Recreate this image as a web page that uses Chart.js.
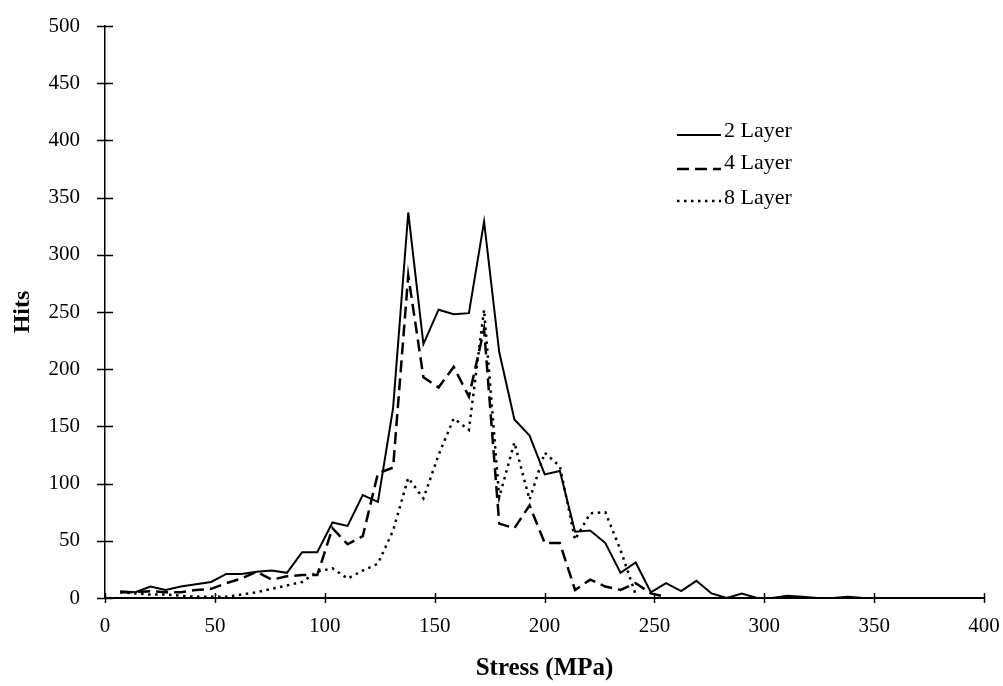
<!DOCTYPE html>
<html><head><meta charset="utf-8">
<script src="https://cdn.jsdelivr.net/npm/chart.js@4.4.1/dist/chart.umd.min.js"></script>
<style>html,body{margin:0;padding:0;background:#fff;} #wrap{width:1003px;height:686px;position:relative;}</style>
</head><body><div id="wrap"><canvas id="c"></canvas></div>
<script>
// Stress bins (MPa)
const stress = [6.9,13.8,20.7,27.6,34.5,41.4,48.3,55.2,62.1,69,75.9,82.8,89.7,96.6,103.5,110.4,117.3,124.2,131.1,138,144.9,151.8,158.7,165.6,172.5,179.4,186.3,193.2,200.1,207,213.9,220.8,227.7,234.6,241.5,248.4,255.3,262.2,269.1,276,282.9,289.8,296.7,303.6,310.5,317.4,324.3,331.2,338.1,345];
// Hits per series
const hits2 = [6,5,10,7,10,12,14,21,21,23,24,22,40,40,66,63,90,84,166,337,222,252,248,249,329,215,156,142,108,111,58,59,48,22,31,5,13,6,15,4,0,4,0,0,2,1,0,0,1,0];
const hits4 = [5,5,6,5,5,7,8,13,17,23,16,19,20,20,61,47,54,109,114,282,193,184,202,176,235,65,61,81,48,48,7,16,10,7,13,4,1];
const hits8 = [5,4,3,3,2,1,1,1,3,5,8,11,14,23,26,17,24,30,59,105,87,125,157,147,252,88,136,86,127,115,51,74,75,42,3];
const seriesNames = ['2 Layer','4 Layer','8 Layer'];
const xTitle = 'Stress (MPa)';
const yTitle = 'Hits';
const xMin = 0, xMax = 400, xStep = 50;
const yMin = 0, yMax = 500, yStep = 50;

const SERIF = "'Liberation Serif', 'DejaVu Serif', serif";
function pts(h){ return h.map((v,i)=>({x:stress[i], y:v})); }

const styles = [
  {borderWidth:2, borderDash:[]},
  {borderWidth:2.5, borderDash:[12,6]},
  {borderWidth:2.5, borderDash:[2.5,4.5]}
];
const seriesData = [hits2, hits4, hits8];

const tickMarks = {
  id:'tickMarks',
  afterDraw(chart){
    const ctx = chart.ctx, xs = chart.scales.x, ys = chart.scales.y;
    const ax = chart.chartArea.left, ay = chart.chartArea.bottom;
    ctx.save();
    ctx.strokeStyle = '#000';
    ctx.lineWidth = 1.5;
    ys.ticks.forEach(t=>{
      const y = Math.round(ys.getPixelForValue(t.value))+0.5;
      ctx.beginPath(); ctx.moveTo(ax-8,y); ctx.lineTo(ax+8,y); ctx.stroke();
    });
    xs.ticks.forEach(t=>{
      const x = Math.round(xs.getPixelForValue(t.value))+0.5;
      ctx.beginPath(); ctx.moveTo(x,ay-5); ctx.lineTo(x,ay+5); ctx.stroke();
    });
    // legend
    const lx0 = 677, lx1 = 721, tx = 724;
    const rows = [{ty:131, ly:135},{ty:163, ly:169},{ty:198, ly:201}];
    ctx.font = "22px " + SERIF;
    ctx.fillStyle = '#000';
    ctx.textBaseline = 'middle';
    ctx.textAlign = 'left';
    seriesNames.forEach((n,i)=>{
      ctx.beginPath();
      ctx.setLineDash(styles[i].borderDash);
      ctx.lineWidth = styles[i].borderWidth;
      ctx.moveTo(lx0, rows[i].ly); ctx.lineTo(lx1, rows[i].ly); ctx.stroke();
      ctx.setLineDash([]);
      ctx.fillText(n, tx, rows[i].ty);
    });
    ctx.restore();
  }
};

new Chart(document.getElementById('c'), {
  type:'line',
  data:{
    datasets: seriesNames.map((n,i)=>({
      label:n,
      data:pts(seriesData[i]),
      borderColor:'#000',
      backgroundColor:'#000',
      borderWidth:styles[i].borderWidth,
      borderDash:styles[i].borderDash,
      pointRadius:0,
      tension:0,
      fill:false
    }))
  },
  options:{
    responsive:true, maintainAspectRatio:false, animation:false, devicePixelRatio:1,
    layout:{padding:{top:26, right:19, left:0, bottom:0}},
    plugins:{legend:{display:false}, tooltip:{enabled:false}},
    scales:{
      x:{type:'linear', min:xMin, max:xMax,
        ticks:{stepSize:xStep, color:'#000', font:{family:SERIF, size:21}, padding:16, maxRotation:0},
        grid:{display:true, drawOnChartArea:false, drawTicks:false},
        border:{display:true, color:'#000', width:2},
        title:{display:true, text:xTitle, color:'#000', font:{family:SERIF, size:25, weight:'bold'}, padding:{top:0,bottom:2}},
        afterFit:s=>{s.height=88; s.paddingLeft=0; s.paddingRight=0;}
      },
      y:{type:'linear', min:yMin, max:yMax,
        ticks:{stepSize:yStep, color:'#000', font:{family:SERIF, size:21}, padding:25},
        grid:{display:true, drawOnChartArea:false, drawTicks:false},
        border:{display:true, color:'#000', width:1.5},
        title:{display:true, text:yTitle, color:'#000', font:{family:SERIF, size:24, weight:'bold'}, padding:{top:8,bottom:0}},
        afterFit:s=>{s.width=105; s.paddingTop=0; s.paddingBottom=0;}
      }
    }
  },
  plugins:[tickMarks]
});
</script>
</body></html>
